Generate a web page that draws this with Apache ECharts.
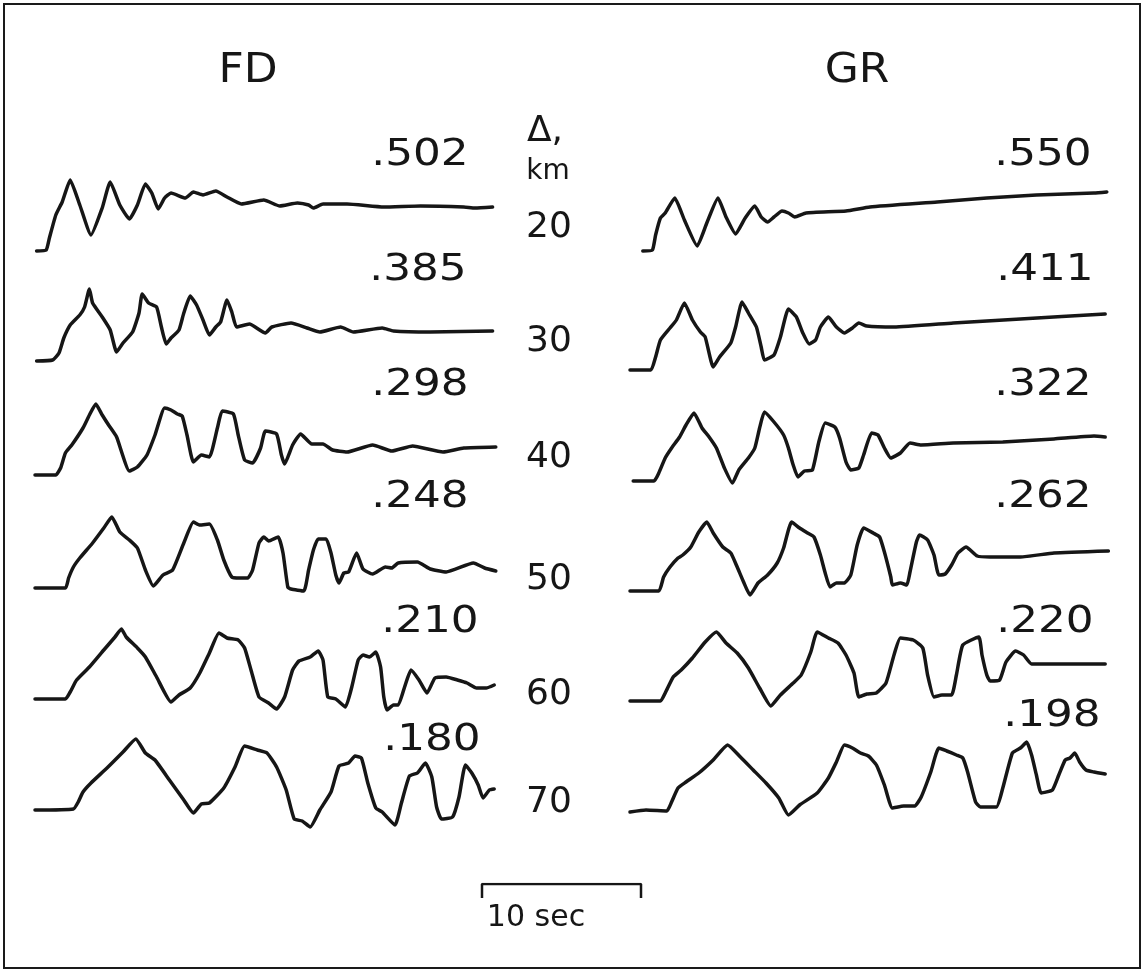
<!DOCTYPE html>
<html>
<head>
<meta charset="utf-8">
<script src="https://cdn.jsdelivr.net/npm/echarts@6/dist/echarts.min.js"></script>
<style>
  html, body { margin: 0; padding: 0; background: #fff; }
  #chart { width: 1143px; height: 973px; }
</style>
</head>
<body>
<div id="chart"></div>
<script>
// epicentral distance of each trace pair, km
var distances = [20, 30, 40, 50, 60, 70];
// peak amplitude written above each trace
var fdPeaks = ['.502', '.385', '.298', '.248', '.210', '.180'];
var grPeaks = ['.550', '.411', '.322', '.262', '.220', '.198'];
// scale bar length, sec
var scaleBar = [[0, 0], [0, 1], [10, 1], [10, 0]];

// traces: [time (s), deflection above the trace's baseline (trace units)]
var fd20 = [[0.1,-0.1],[0.7,0],[0.9,1.2],[1.3,3.5],[1.7,4.8],[2.2,7.0],[2.8,4.5],[3.5,1.5],[4.2,4.2],[4.7,6.8],[5.3,4.5],[5.9,3.1],[6.4,4.5],[6.9,6.6],[7.3,5.7],[7.7,4.1],[8.1,5.2],[8.5,5.7],[9.4,5.2],[9.9,5.8],[10.5,5.5],[11.3,5.9],[12.0,5.3],[12.9,4.6],[14.3,5.0],[15.3,4.4],[16.4,4.7],[17.1,4.5],[17.4,4.2],[18.0,4.6],[19.5,4.6],[21.8,4.3],[24.1,4.4],[26.8,4.3],[27.5,4.2],[28.6,4.3]];
var fd30 = [[0.1,0.1],[1.1,0.2],[1.5,0.9],[1.8,2.4],[2.2,3.7],[2.8,4.7],[3.1,5.5],[3.4,7.3],[3.6,5.9],[4.2,4.5],[4.7,3.2],[5.1,1.0],[5.5,1.9],[6.1,3.0],[6.5,4.9],[6.7,6.8],[7.1,5.9],[7.6,5.5],[7.9,3.5],[8.2,1.8],[8.5,2.4],[9.0,3.2],[9.3,4.9],[9.7,6.6],[10.1,5.7],[10.5,4.2],[10.9,2.7],[11.3,3.5],[11.6,4.0],[12.0,6.2],[12.3,5.0],[12.6,3.5],[13.4,3.8],[14.4,2.9],[14.8,3.5],[16.0,3.9],[17.0,3.4],[17.8,3.0],[19.1,3.5],[19.9,3.0],[21.7,3.4],[22.4,3.1],[24.7,3.0],[28.6,3.1]];
var fd40 = [[0,-0.1],[1.3,-0.1],[1.6,0.6],[1.9,2.1],[2.3,2.9],[3.0,4.6],[3.4,5.9],[3.8,7.0],[4.2,5.9],[4.6,4.9],[5.1,3.7],[5.9,0.3],[6.4,0.7],[7.0,1.9],[7.5,3.9],[8.1,6.6],[8.5,6.4],[8.9,6.0],[9.2,5.8],[9.5,3.9],[9.9,1.2],[10.4,1.9],[10.9,1.7],[11.4,4.6],[11.7,6.3],[12.4,6.0],[12.7,3.9],[13.1,1.4],[13.6,1.1],[14.1,2.6],[14.4,4.3],[15.1,4.0],[15.4,1.9],[15.6,1.0],[16.1,2.9],[16.6,4.0],[17.3,3.0],[18.0,3.0],[18.6,2.4],[19.5,2.2],[21.1,2.9],[22.3,2.3],[23.6,2.8],[25.5,2.2],[26.8,2.6],[28.8,2.7]];
var fd50 = [[0,-0.2],[1.9,-0.2],[2.1,0.8],[2.4,1.9],[2.8,2.8],[3.6,4.3],[4.3,5.8],[4.8,6.9],[5.3,5.4],[5.9,4.6],[6.4,3.8],[6.9,1.6],[7.4,0.0],[8.0,1.1],[8.6,1.6],[9.3,4.3],[9.9,6.4],[10.3,6.1],[10.9,6.2],[11.4,4.6],[11.8,2.6],[12.3,0.9],[12.8,0.8],[13.3,0.8],[13.6,1.6],[14.0,4.3],[14.3,4.9],[14.6,4.5],[15.2,4.9],[15.5,3.3],[15.8,-0.1],[16.0,-0.3],[16.8,-0.5],[17.1,1.6],[17.4,3.6],[17.7,4.7],[18.2,4.7],[18.5,3.3],[18.8,1.1],[19.0,0.3],[19.3,1.3],[19.6,1.4],[20.1,3.3],[20.5,1.7],[21.1,1.2],[21.9,1.9],[22.3,1.8],[22.7,2.3],[23.9,2.4],[24.7,1.7],[25.7,1.4],[27.4,2.3],[28.1,1.8],[28.8,1.5]];
var fd60 = [[0,-0.1],[1.9,-0.1],[2.2,0.6],[2.6,1.8],[3.4,3.1],[4.3,4.8],[5.0,6.1],[5.4,6.9],[5.7,6.1],[6.4,5.0],[6.9,4.1],[7.6,2.1],[8.5,-0.4],[9.0,0.3],[9.7,1.0],[10.3,2.5],[10.9,4.5],[11.5,6.5],[12.0,6.0],[12.7,5.8],[13.1,5.0],[13.5,2.8],[14.0,0.1],[14.6,-0.5],[15.1,-1.1],[15.6,0.1],[16.1,2.8],[16.5,3.7],[17.2,4.1],[17.7,4.7],[18.0,3.8],[18.3,0.1],[18.8,-0.1],[19.4,-0.9],[19.8,1.1],[20.2,3.8],[20.5,4.3],[20.9,4.1],[21.3,4.6],[21.6,3.1],[21.8,0.1],[22.0,-1.2],[22.4,-0.7],[22.7,-0.7],[23.1,1.1],[23.5,2.8],[24.0,1.8],[24.5,0.5],[25.0,2.0],[25.7,2.1],[26.4,1.8],[27.0,1.5],[27.6,1.0],[28.2,1.0],[28.7,1.3]];
var fd70 = [[0,0],[2.4,0.1],[2.7,0.8],[3.0,1.8],[3.5,2.7],[4.5,4.2],[5.5,5.8],[6.3,7.1],[6.9,5.7],[7.5,5.0],[8.4,3.0],[9.3,1.0],[9.9,-0.3],[10.4,0.6],[10.9,0.7],[11.8,2.2],[12.5,4.3],[13.1,6.4],[13.9,6.0],[14.5,5.7],[15.1,4.3],[15.7,2.0],[16.2,-0.9],[16.7,-1.1],[17.2,-1.7],[17.8,0.0],[18.5,1.8],[19.0,4.4],[19.6,4.7],[20.0,5.4],[20.4,5.2],[20.8,2.7],[21.3,0.2],[21.7,-0.2],[22.5,-1.5],[22.9,0.7],[23.4,3.4],[23.9,3.7],[24.4,4.7],[24.8,3.3],[25.1,0.3],[25.4,-0.9],[26.1,-0.7],[26.5,1.3],[26.9,4.5],[27.3,3.7],[27.7,2.5],[28.0,1.2],[28.4,2.0],[28.7,2.1]];

var gr20 = [[0.8,-0.1],[1.4,0],[1.6,1.5],[1.9,3.2],[2.2,3.7],[2.8,5.2],[3.4,3.0],[4.2,0.4],[4.8,2.7],[5.5,5.2],[6.0,3.3],[6.6,1.6],[7.2,3.2],[7.8,4.4],[8.2,3.3],[8.6,2.8],[9.0,3.3],[9.5,3.9],[9.9,3.7],[10.3,3.3],[11.0,3.7],[13.5,3.9],[15.0,4.3],[19.2,4.8],[22.3,5.2],[25.4,5.5],[29.0,5.7],[29.8,5.8]];
var gr30 = [[0,-0.8],[1.3,-0.8],[1.6,0.5],[1.9,2.2],[2.5,3.4],[2.9,4.2],[3.4,5.9],[3.9,4.2],[4.4,3.0],[4.7,2.5],[5.2,-0.5],[5.6,0.5],[6.3,1.9],[6.6,3.5],[7.0,6.0],[7.4,4.9],[7.9,3.5],[8.2,1.5],[8.4,0.2],[9.0,0.7],[9.4,2.5],[9.9,5.3],[10.4,4.5],[10.8,2.9],[11.2,1.8],[11.6,2.2],[11.9,3.5],[12.4,4.5],[12.9,3.5],[13.4,2.9],[13.9,3.4],[14.3,3.9],[14.8,3.6],[16.5,3.5],[20.2,3.9],[24.4,4.3],[29.7,4.8]];
var gr40 = [[0.2,-0.7],[1.5,-0.7],[1.8,0.1],[2.2,1.6],[2.6,2.6],[3.1,3.7],[3.5,4.9],[4.0,6.1],[4.5,4.6],[4.9,3.8],[5.4,2.6],[5.9,0.6],[6.4,-0.9],[6.8,0.4],[7.4,1.6],[7.8,2.6],[8.1,4.6],[8.4,6.2],[9.0,5.2],[9.6,3.9],[9.9,2.6],[10.2,0.9],[10.5,-0.3],[10.9,0.3],[11.4,0.4],[11.8,3.2],[12.2,5.1],[12.8,4.7],[13.1,3.6],[13.5,1.2],[13.8,0.4],[14.3,0.6],[14.6,1.9],[15.1,4.1],[15.5,3.9],[15.9,2.6],[16.3,1.6],[16.9,2.1],[17.5,3.1],[18.2,2.9],[20.2,3.1],[23.3,3.2],[26.5,3.5],[29.0,3.8],[29.7,3.7]];
var gr50 = [[0,-0.5],[1.8,-0.5],[2.1,0.9],[2.5,1.9],[3.0,2.8],[3.3,3.1],[3.8,3.9],[4.3,5.4],[4.8,6.4],[5.2,5.3],[5.8,3.9],[6.3,3.3],[6.7,1.9],[7.1,0.4],[7.5,-0.9],[8.0,0.3],[8.6,1.1],[9.2,2.3],[9.6,3.8],[10.1,6.4],[10.6,5.8],[11.1,5.3],[11.5,4.9],[11.9,3.1],[12.2,1.3],[12.5,-0.1],[12.9,0.3],[13.4,0.3],[13.8,1.1],[14.2,4.1],[14.6,5.8],[15.2,5.3],[15.6,4.9],[15.9,3.4],[16.3,0.9],[16.4,0.1],[16.9,0.3],[17.3,0.1],[17.5,1.4],[17.9,4.4],[18.1,5.1],[18.6,4.6],[19.0,3.1],[19.3,1.1],[19.7,1.2],[20.1,2.1],[20.5,3.3],[21.0,3.9],[21.7,3.0],[22.5,2.9],[24.4,2.9],[26.5,3.3],[29.9,3.5]];
var gr60 = [[0,-0.3],[1.9,-0.3],[2.2,0.5],[2.7,2.1],[3.2,2.8],[3.9,4.0],[4.7,5.6],[5.4,6.6],[6.0,5.5],[6.7,4.5],[7.4,3.0],[8.1,1.0],[8.8,-0.8],[9.4,0.3],[10.2,1.5],[10.7,2.3],[11.3,4.6],[11.7,6.6],[12.4,6.0],[13.0,5.5],[13.5,4.3],[14.0,2.5],[14.3,0.1],[14.8,0.4],[15.4,0.5],[16.0,1.5],[16.5,4.3],[16.9,6.0],[17.7,5.8],[18.3,5.0],[18.6,2.3],[19.0,0.1],[19.5,0.3],[20.1,0.3],[20.4,2.3],[20.8,5.3],[21.8,6.1],[22.0,4.3],[22.3,2.3],[22.5,1.7],[23.1,1.8],[23.5,3.6],[24.1,4.7],[24.6,4.3],[25.1,3.4],[26.5,3.4],[29.7,3.4]];
var gr70 = [[0,-0.2],[1.0,0.0],[2.3,-0.1],[2.6,0.8],[3.0,2.2],[3.5,2.8],[4.3,3.7],[5.2,5.0],[6.1,6.5],[6.9,5.3],[7.7,4.0],[8.5,2.7],[9.3,1.2],[9.9,-0.5],[10.6,0.5],[11.7,1.7],[12.4,3.2],[12.9,4.8],[13.4,6.5],[13.9,6.2],[14.4,5.7],[14.9,5.4],[15.4,4.5],[15.9,2.5],[16.4,0.2],[17.1,0.4],[17.8,0.4],[18.2,1.3],[18.8,3.8],[19.3,6.2],[19.8,5.9],[20.4,5.5],[20.8,5.2],[21.1,3.8],[21.6,0.8],[21.9,0.3],[22.9,0.3],[23.3,2.2],[23.9,5.7],[24.4,6.2],[24.8,6.8],[25.1,5.5],[25.4,3.5],[25.7,1.7],[26.4,2.0],[26.8,3.5],[27.2,5.0],[27.5,5.2],[27.8,5.7],[28.1,4.8],[28.5,4.0],[29.0,3.8],[29.7,3.6]];

var fdTraces = [fd20, fd30, fd40, fd50, fd60, fd70];
var grTraces = [gr20, gr30, gr40, gr50, gr60, gr70];

var ROW = 11.2;      // trace spacing in trace units
var FONT = '"DejaVu Sans"';
var INK = '#161616';

// layout (pixels)
var distY = [228, 342, 458, 580, 695, 803];
var peakY = [155, 270, 385, 497, 622, 716];
var fdPeakY = [155, 270, 385, 497, 622, 740];
var fdPeakX = [420, 418, 420, 420, 430, 432];
var grPeakX = [1043, 1045, 1043, 1043, 1045, 1052];

function stack(trace, row) {
  return trace.map(function (p) { return [p[0], (distances.length - 1 - row) * ROW + p[1]]; });
}

var series = [];
function addTraces(traces, axis) {
  traces.forEach(function (tr, i) {
    series.push({
      type: 'line',
      xAxisIndex: axis,
      yAxisIndex: axis,
      data: stack(tr, i),
      symbol: 'none',
      smooth: 0.15,
      silent: true,
      lineStyle: { color: INK, width: 3.5, cap: 'round', join: 'round' }
    });
  });
}
addTraces(fdTraces, 0);
addTraces(grTraces, 1);
series.push({
  type: 'line',
  xAxisIndex: 2,
  yAxisIndex: 2,
  data: scaleBar,
  symbol: 'none',
  silent: true,
  lineStyle: { color: INK, width: 2.5 }
});

function label(x, y, text, size, sx) {
  return { type: 'text', x: x, y: y, scaleX: sx || 1,
    style: { text: text, font: size + 'px ' + FONT, fill: INK, align: 'center', verticalAlign: 'middle' } };
}

var graphics = [
  { type: 'rect', shape: { x: 4, y: 4, width: 1136, height: 964 },
    style: { fill: 'none', stroke: '#1a1a1a', lineWidth: 2 } },
  label(248, 72, 'FD', 40, 1.1),
  label(857, 72, 'GR', 40, 1.1),
  label(545, 132, 'Δ,', 36),
  label(548, 172, 'km', 28),
  label(536, 918, '10 sec', 30)
];
distances.forEach(function (d, i) {
  graphics.push(label(549, distY[i], String(d), 36));
  graphics.push(label(fdPeakX[i], fdPeakY[i], fdPeaks[i], 38, 1.15));
  graphics.push(label(grPeakX[i], peakY[i], grPeaks[i], 38, 1.15));
});

function hiddenAxis(idx, min, max) {
  return { type: 'value', gridIndex: idx, min: min, max: max, show: false };
}

var chart = echarts.init(document.getElementById('chart'));
chart.setOption({
  backgroundColor: '#ffffff',
  animation: false,
  grid: [
    { left: 35, top: 110, width: 480, height: 750 },
    { left: 630, top: 110, width: 480, height: 750 },
    { left: 482, top: 884, width: 159, height: 14 }
  ],
  xAxis: [hiddenAxis(0, 0, 30), hiddenAxis(1, 0, 30), hiddenAxis(2, 0, 10)],
  yAxis: [hiddenAxis(0, -5, 70), hiddenAxis(1, -5, 70), hiddenAxis(2, 0, 1)],
  series: series,
  graphic: graphics
});
</script>
</body>
</html>
